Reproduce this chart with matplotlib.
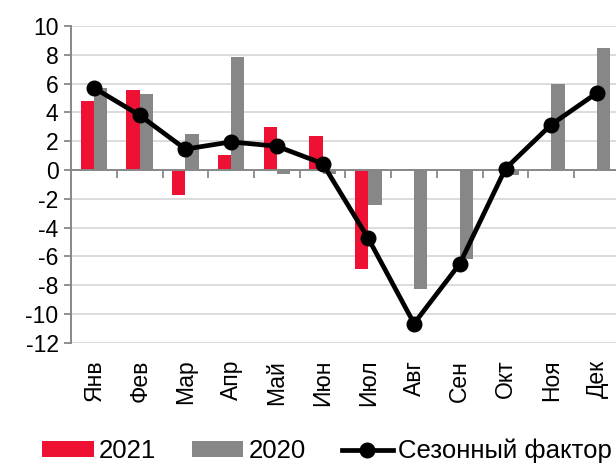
import matplotlib
matplotlib.use("Agg")
import matplotlib.pyplot as plt
import numpy as np

plt.rcParams['font.family'] = ['Liberation Sans', 'DejaVu Sans']
plt.rcParams['axes.unicode_minus'] = False

months = ["Янв", "Фев", "Мар", "Апр", "Май", "Июн", "Июл", "Авг", "Сен", "Окт", "Ноя", "Дек"]
y2021 = [4.8, 5.55, -1.7, 1.05, 2.95, 2.35, -6.85, 0, 0, 0, 0, 0]
y2020 = [5.7, 5.3, 2.5, 7.85, -0.3, -0.3, -2.45, -8.25, -6.2, -0.35, 5.95, 8.45]
season = [5.7, 3.8, 1.45, 1.95, 1.65, 0.45, -4.75, -10.65, -6.5, 0.1, 3.15, 5.35]

red = "#EE1133"
gray = "#878787"
axis_gray = "#888888"
fs = 16.5

fig = plt.figure(figsize=(6.16, 4.65), dpi=100)
ax = fig.add_axes([0.1153, 0.2624, 0.891, 0.682])

x = np.arange(len(months))
w = 0.29
b1 = ax.bar(x - w / 2, y2021, width=w, color=red, label="2021", zorder=2)
b2 = ax.bar(x + w / 2, y2020, width=w, color=gray, label="2020", zorder=2)
ln, = ax.plot(x, season, color="black", lw=3.4, marker="o", markersize=10.5,
              label="Сезонный фактор", zorder=4)

ax.set_xlim(-0.5, 11.5)
ax.set_ylim(-12, 10)
ax.set_yticks(np.arange(-12, 11, 2))
ax.grid(axis="y", color="#D9D9D9", lw=1.3, zorder=0)
ax.set_axisbelow(True)

for s in ["top", "right"]:
    ax.spines[s].set_visible(False)
for s in ["left", "bottom"]:
    ax.spines[s].set_color(axis_gray)
    ax.spines[s].set_linewidth(1.4)
    ax.spines[s].set_zorder(3)
ax.spines["bottom"].set_position(("data", 0))
ax.tick_params(axis="y", colors=axis_gray, length=5, width=1.3, labelcolor="black",
               labelsize=fs, pad=4)

# category boundary ticks on the zero line
ax.set_xticks(np.arange(0.5, 11.5, 1))
ax.set_xticklabels([])
ax.tick_params(axis="x", direction="out", length=6, width=1.3, colors=axis_gray)

# month labels at the bottom of the plot
lab_ax = ax.secondary_xaxis("bottom")
lab_ax.set_xticks(x)
lab_ax.set_xticklabels(months, rotation=90, fontsize=fs)
lab_ax.tick_params(axis="x", length=0, pad=12)
lab_ax.spines["bottom"].set_visible(False)

fig.legend([b1, b2, ln], ["2021", "2020", "Сезонный фактор"],
           loc="center", bbox_to_anchor=(0.531, 0.030), ncol=3, frameon=False,
           fontsize=18.5, handlelength=2.0, handleheight=0.55, handletextpad=0.2,
           columnspacing=1.4, borderpad=0, borderaxespad=0)

fig.savefig("out.png", dpi=100)
